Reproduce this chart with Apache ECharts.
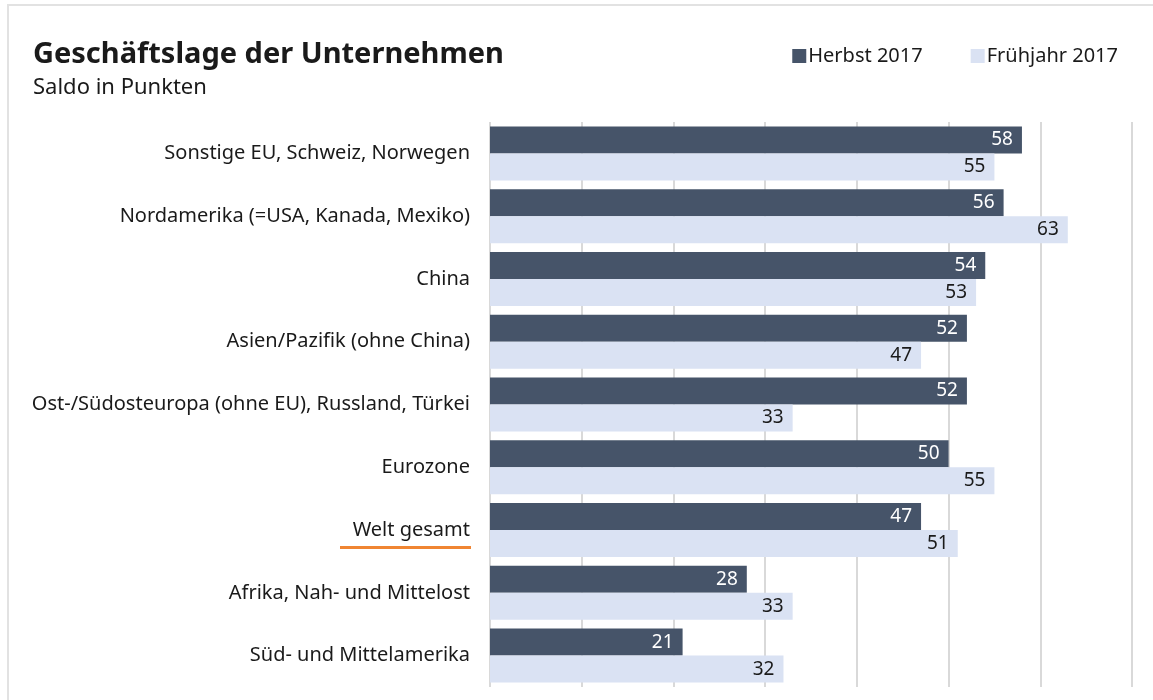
<!doctype html>
<html lang="de">
<head>
    <meta charset="UTF-8">
    <title>Geschäftslage der Unternehmen</title>
    <style>
        html, body { margin: 0; padding: 0; background: #fff; }
        #main { width: 1153px; height: 700px; }
    </style>
</head>
<body>
<div id="main"></div>
<script src="https://cdn.jsdelivr.net/npm/echarts@6/dist/echarts.min.js"></script>
<script type="text/javascript">
    // Daten
    var regionen = ['Sonstige EU, Schweiz, Norwegen', 'Nordamerika (=USA, Kanada, Mexiko)', 'China',
        'Asien/Pazifik (ohne China)', 'Ost-/Südosteuropa (ohne EU), Russland, Türkei', 'Eurozone',
        'Welt gesamt', 'Afrika, Nah- und Mittelost', 'Süd- und Mittelamerika'];
    var herbst2017 = [58, 56, 54, 52, 52, 50, 47, 28, 21];
    var fruehjahr2017 = [55, 63, 53, 47, 33, 55, 51, 33, 32];
    var xTicks = [0, 10, 20, 30, 40, 50, 60, 70];

    var font = 'Noto Sans';
    var myChart = echarts.init(document.getElementById('main'));

    var option = {
        backgroundColor: '#fff',
        textStyle: { fontFamily: font },
        title: {
            text: 'Geschäftslage der Unternehmen',
            subtext: 'Saldo in Punkten',
            left: 28, top: 35,
            itemGap: 8,
            textStyle: { fontFamily: font, fontSize: 29, fontWeight: 'bold', color: '#1a1a1a' },
            subtextStyle: { fontFamily: font, fontSize: 22, color: '#1a1a1a' }
        },
        legend: {
            data: ['Herbst 2017', 'Frühjahr 2017'],
            right: 30, top: 41,
            itemWidth: 14, itemHeight: 14, itemGap: 48,
            icon: 'rect',
            textStyle: { fontFamily: font, fontSize: 20, color: '#1a1a1a', padding: [0, 0, 0, -3] }
        },
        grid: { left: 490, right: 21, top: 122, bottom: 13, containLabel: false },
        xAxis: {
            type: 'value',
            min: xTicks[0], max: xTicks[xTicks.length - 1], interval: 10,
            axisLabel: { show: false },
            axisTick: { show: false },
            axisLine: { show: false },
            splitLine: { show: true, lineStyle: { color: '#d9d9d9', width: 2 } }
        },
        yAxis: {
            type: 'category',
            inverse: true,
            data: regionen,
            axisTick: { show: false },
            axisLine: { show: false },
            axisLabel: { fontFamily: font, fontSize: 20, color: '#1a1a1a', margin: 20 }
        },
        series: [
            {
                name: 'Herbst 2017', type: 'bar', data: herbst2017,
                barGap: 0, barCategoryGap: '14%',
                itemStyle: { color: '#465469' },
                label: { show: true, position: 'insideRight', distance: 9,
                    fontFamily: font, fontSize: 19, color: '#fff' }
            },
            {
                name: 'Frühjahr 2017', type: 'bar', data: fruehjahr2017,
                barGap: 0, barCategoryGap: '14%',
                itemStyle: { color: '#dae2f3' },
                label: { show: true, position: 'insideRight', distance: 9,
                    fontFamily: font, fontSize: 19, color: '#1a1a1a' }
            }
        ]
    };
    myChart.setOption(option);

    // Rahmen und orange Unterstreichung "Welt gesamt"
    var yWelt = myChart.convertToPixel({ yAxisIndex: 0 }, 'Welt gesamt');
    myChart.setOption({
        graphic: [
            { type: 'rect', shape: { x: 8, y: 5, width: 1160, height: 720 },
              style: { fill: 'none', stroke: '#e2e2e2', lineWidth: 2 }, z: -1 },
            { type: 'rect', shape: { x: 340, y: yWelt + 16, width: 131, height: 3 },
              style: { fill: '#f08532' } }
        ]
    });
</script>
</body>
</html>
